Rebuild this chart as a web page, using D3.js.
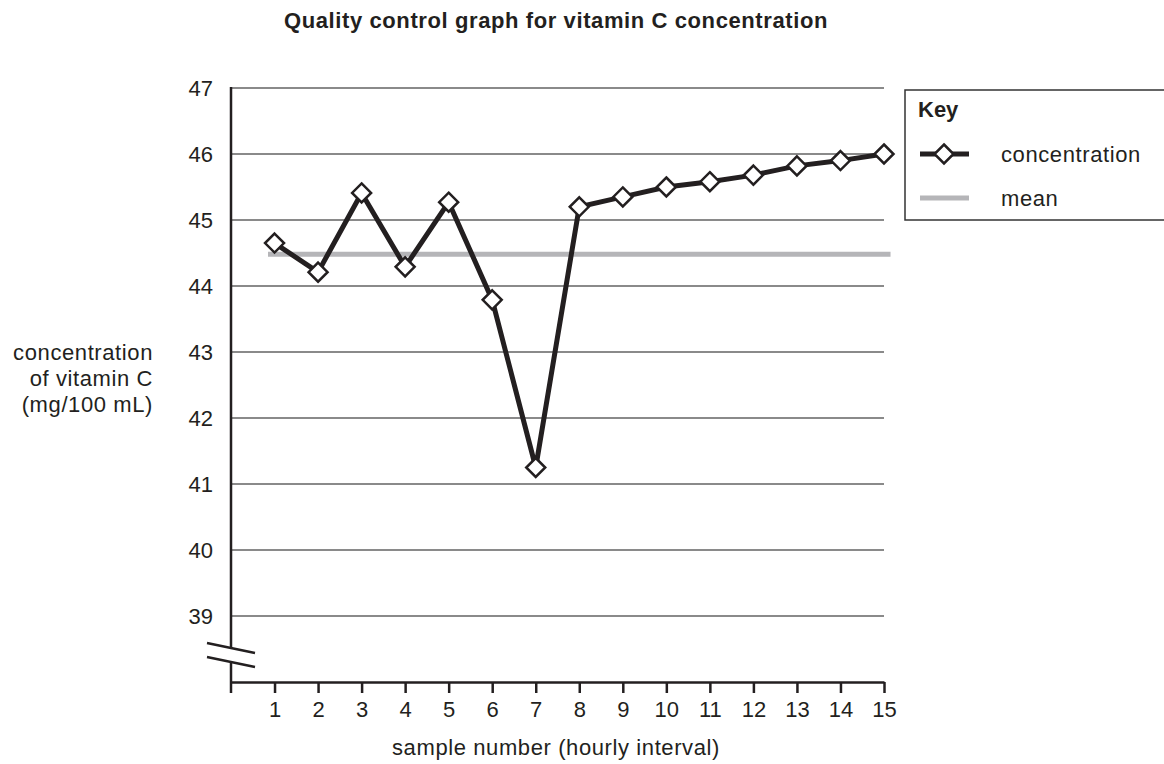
<!DOCTYPE html>
<html>
<head>
<meta charset="utf-8">
<script src="https://cdn.jsdelivr.net/npm/d3@7"></script>
<style>
  body { margin: 0; background: #fff; }
  svg { font-family: "Liberation Sans", Arial, sans-serif; }
</style>
</head>
<body>
<svg id="chart" width="1164" height="764"></svg>
<script>
// data
var samples = [1, 2, 3, 4, 5, 6, 7, 8, 9, 10, 11, 12, 13, 14, 15];
var concentration = [44.65, 44.21, 45.41, 44.29, 45.27, 43.79, 41.25, 45.20, 45.35, 45.50, 45.58, 45.68, 45.82, 45.90, 46.00];
var meanValue = 44.48;
var yTicks = [39, 40, 41, 42, 43, 44, 45, 46, 47];
var yLabelLines = ['concentration', 'of vitamin C', '(mg/100 mL)'];
var legendItems = ['concentration', 'mean'];

var svg = d3.select('#chart');
var ink = '#231f20';
var fs = 22;

var x = d3.scaleLinear().domain([0, 15]).range([231, 884]);
var y = d3.scaleLinear().domain([38, 47]).range([682, 88]);

// title
svg.append('text')
  .attr('x', 556).attr('y', 28)
  .attr('text-anchor', 'middle')
  .attr('font-size', 22).attr('font-weight', 'bold')
  .attr('letter-spacing', 0.6)
  .attr('fill', ink)
  .text('Quality control graph for vitamin C concentration');

// gridlines
svg.append('g').selectAll('line')
  .data(yTicks).enter().append('line')
  .attr('x1', x(0)).attr('x2', x(15))
  .attr('y1', function(d) { return y(d); })
  .attr('y2', function(d) { return y(d); })
  .attr('stroke', '#8a8a8a').attr('stroke-width', 1.8);

// y tick labels
svg.append('g').selectAll('text')
  .data(yTicks).enter().append('text')
  .attr('x', 213)
  .attr('y', function(d) { return y(d) + 8; })
  .attr('text-anchor', 'end')
  .attr('font-size', fs).attr('fill', ink)
  .text(function(d) { return d; });

// y axis with break
var breakTop = 647, breakBottom = 662;
svg.append('line')
  .attr('x1', x(0)).attr('x2', x(0))
  .attr('y1', y(47) - 1).attr('y2', breakTop)
  .attr('stroke', ink).attr('stroke-width', 2.5);
svg.append('line')
  .attr('x1', x(0)).attr('x2', x(0))
  .attr('y1', breakBottom).attr('y2', 693)
  .attr('stroke', ink).attr('stroke-width', 2.5);
[[643, 653], [657, 667]].forEach(function(b) {
  svg.append('line')
    .attr('x1', 207).attr('y1', b[0])
    .attr('x2', 255).attr('y2', b[1])
    .attr('stroke', ink).attr('stroke-width', 2.5);
});

// x axis
var xAxis = svg.append('g')
  .attr('transform', 'translate(0,' + y(38) + ')')
  .call(d3.axisBottom(x).tickValues(samples).tickSize(11).tickSizeOuter(0).tickPadding(8));
xAxis.select('.domain').attr('stroke', ink).attr('stroke-width', 2.5);
xAxis.selectAll('.tick line').attr('stroke', ink).attr('stroke-width', 2.5);
xAxis.selectAll('.tick text')
  .attr('font-size', fs).attr('fill', ink)
  .attr('font-family', '"Liberation Sans", Arial, sans-serif');

// axis titles
svg.append('text')
  .attr('x', 556).attr('y', 755)
  .attr('text-anchor', 'middle')
  .attr('font-size', fs).attr('letter-spacing', 0.6).attr('fill', ink)
  .text('sample number (hourly interval)');

svg.append('g').selectAll('text')
  .data(yLabelLines).enter().append('text')
  .attr('x', 153)
  .attr('y', function(d, i) { return 360 + i * 26; })
  .attr('text-anchor', 'end')
  .attr('font-size', fs).attr('letter-spacing', 0.6).attr('fill', ink)
  .text(function(d) { return d; });

// mean line
svg.append('line')
  .attr('x1', x(0.85)).attr('x2', x(15.15))
  .attr('y1', y(meanValue)).attr('y2', y(meanValue))
  .attr('stroke', '#b5b5b8').attr('stroke-width', 5);

// concentration line
var points = samples.map(function(s, i) { return [s, concentration[i]]; });
var line = d3.line()
  .x(function(d) { return x(d[0]); })
  .y(function(d) { return y(d[1]); });

svg.append('path')
  .datum(points)
  .attr('d', line)
  .attr('fill', 'none')
  .attr('stroke', ink).attr('stroke-width', 5)
  .attr('stroke-linejoin', 'miter');

function diamond(r) {
  return 'M0,' + (-r) + 'L' + r + ',0L0,' + r + 'L' + (-r) + ',0Z';
}

svg.append('g').selectAll('path')
  .data(points).enter().append('path')
  .attr('transform', function(d) { return 'translate(' + x(d[0]) + ',' + y(d[1]) + ')'; })
  .attr('d', diamond(9.5))
  .attr('fill', '#fff')
  .attr('stroke', ink).attr('stroke-width', 2.5);

// legend
var legend = svg.append('g');
legend.append('rect')
  .attr('x', 905).attr('y', 90)
  .attr('width', 270).attr('height', 130)
  .attr('fill', '#fff')
  .attr('stroke', '#333').attr('stroke-width', 1.5);
legend.append('text')
  .attr('x', 918).attr('y', 117)
  .attr('font-size', fs).attr('font-weight', 'bold').attr('fill', ink)
  .text('Key');

var legendY = [154, 198];
legend.append('line')
  .attr('x1', 920).attr('x2', 969)
  .attr('y1', legendY[0]).attr('y2', legendY[0])
  .attr('stroke', ink).attr('stroke-width', 5);
legend.append('path')
  .attr('transform', 'translate(944,' + legendY[0] + ')')
  .attr('d', diamond(9.5))
  .attr('fill', '#fff').attr('stroke', ink).attr('stroke-width', 2.5);
legend.append('line')
  .attr('x1', 920).attr('x2', 969)
  .attr('y1', legendY[1]).attr('y2', legendY[1])
  .attr('stroke', '#b5b5b8').attr('stroke-width', 5);

legend.selectAll('text.item')
  .data(legendItems).enter().append('text')
  .attr('class', 'item')
  .attr('x', 1001)
  .attr('y', function(d, i) { return legendY[i] + 8; })
  .attr('font-size', fs).attr('letter-spacing', 0.6).attr('fill', ink)
  .text(function(d) { return d; });
</script>
</body>
</html>
